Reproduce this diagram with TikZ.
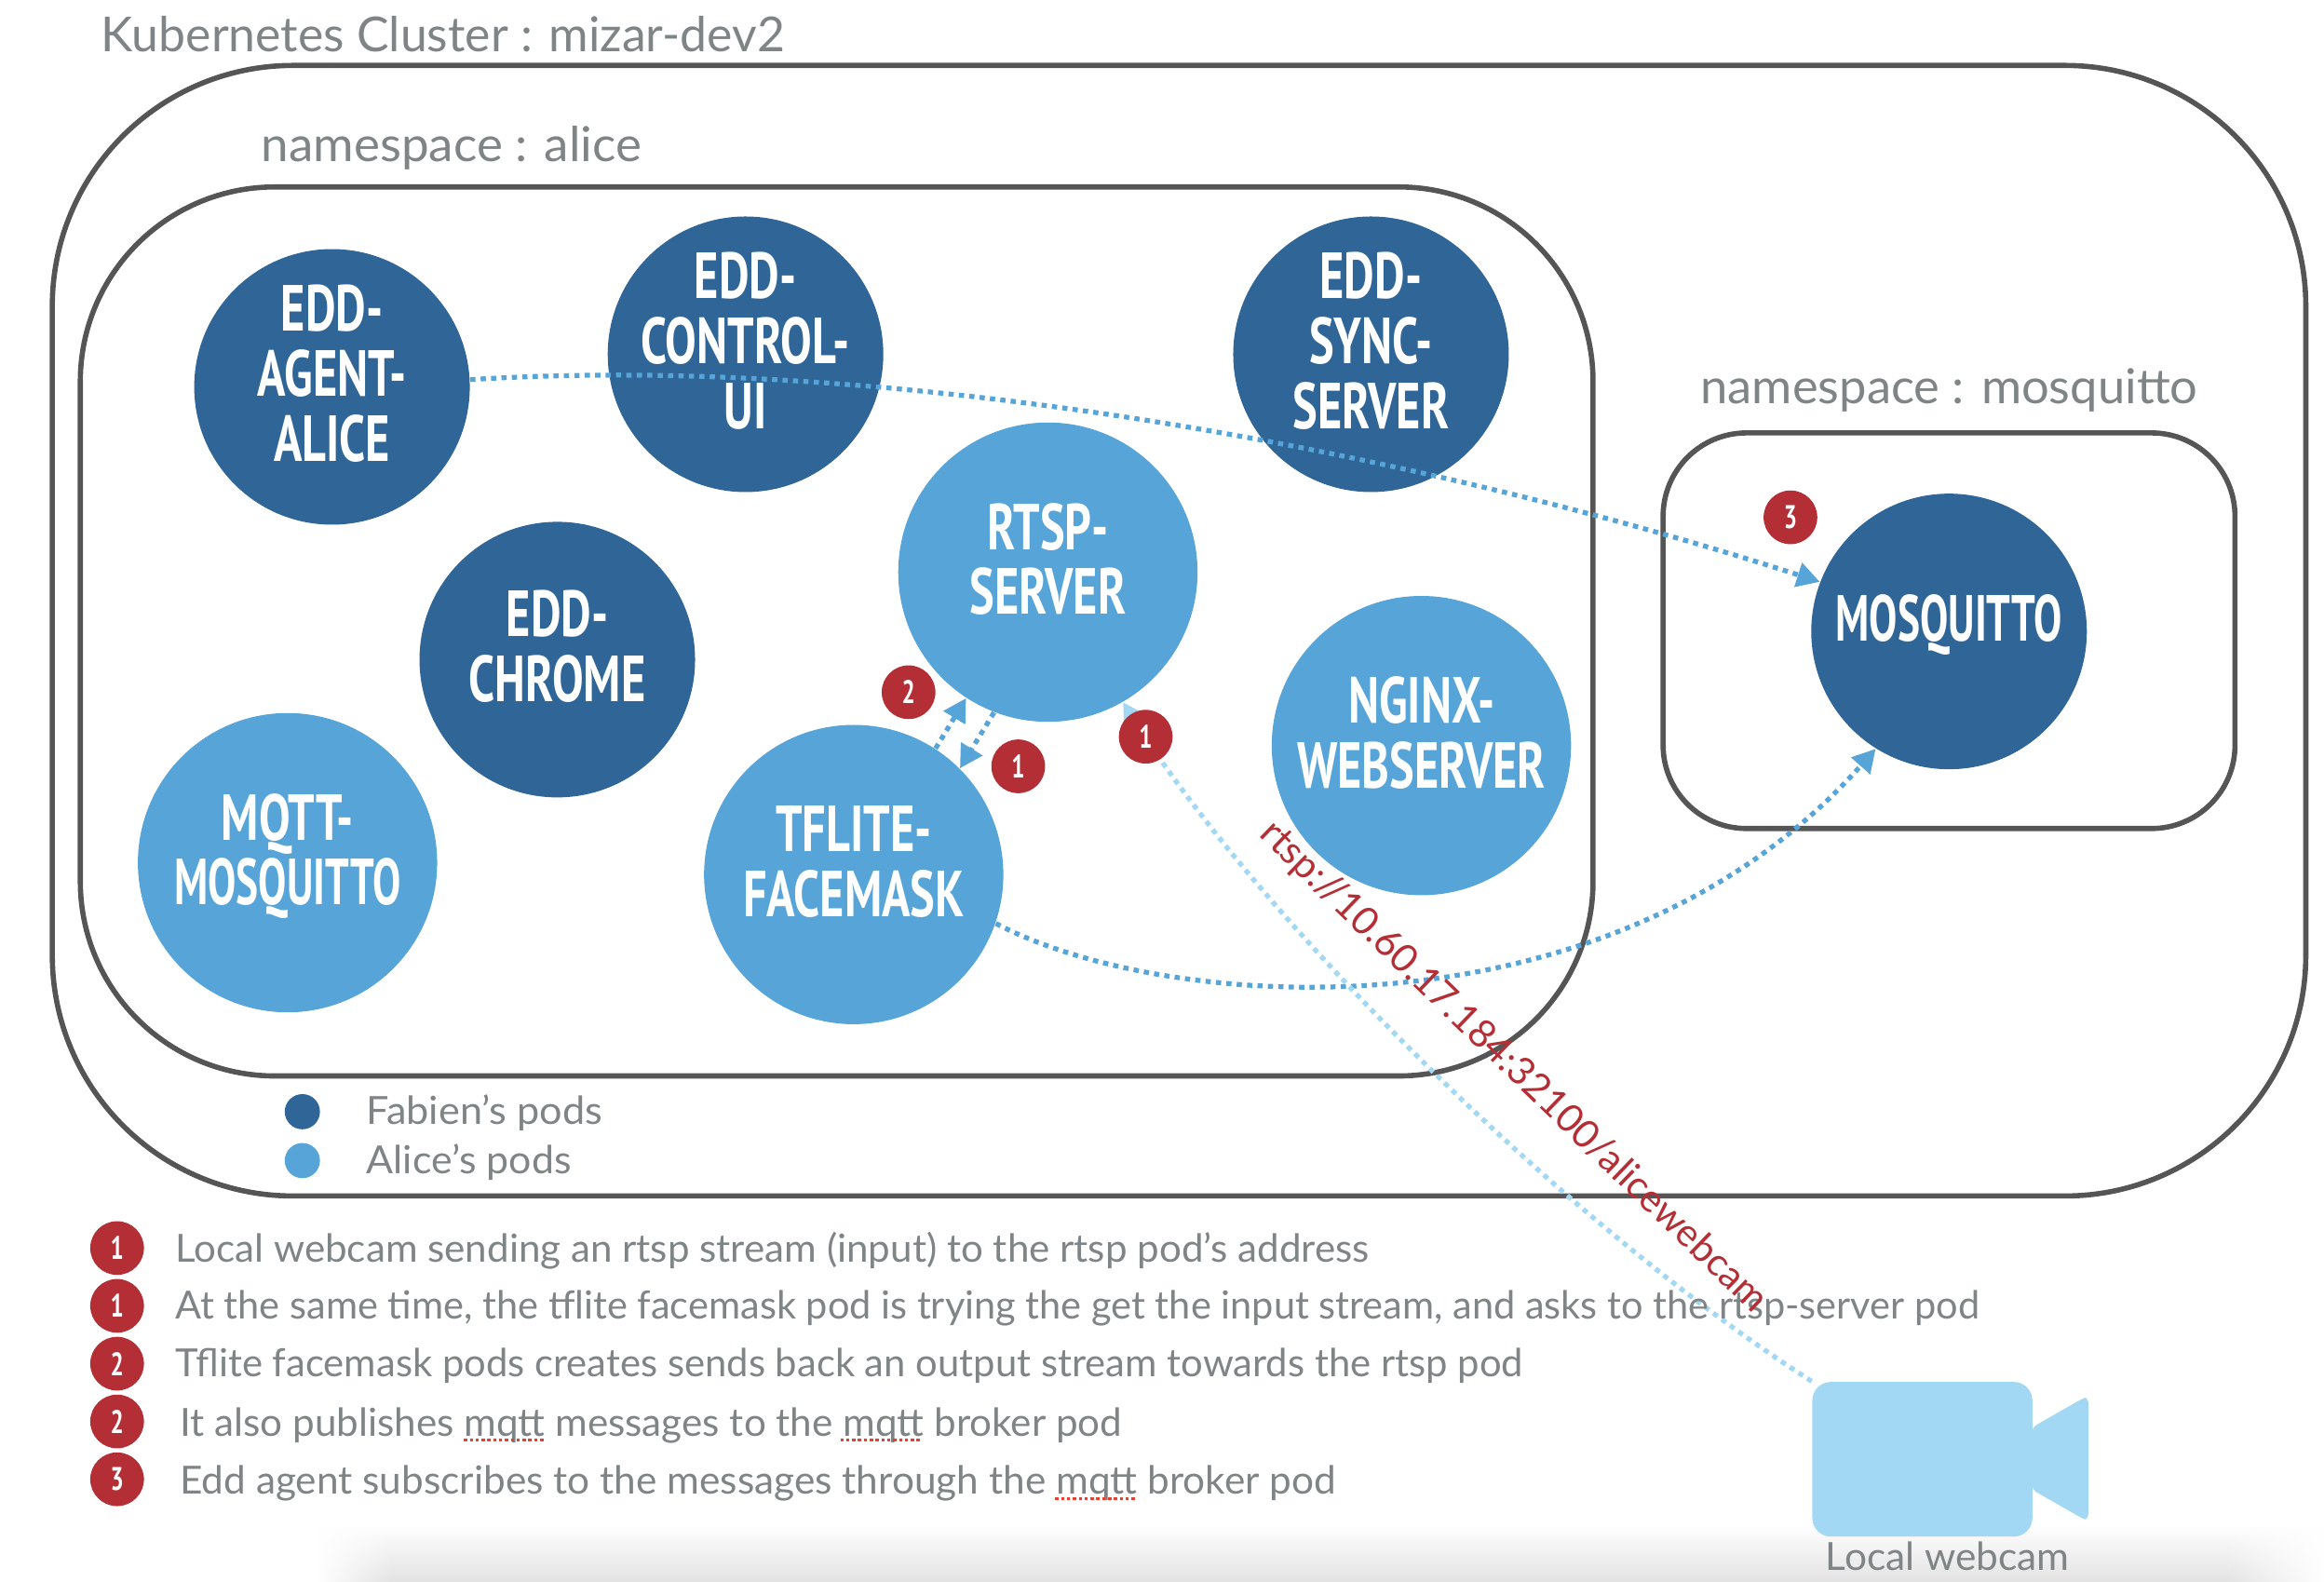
\documentclass[tikz,border=0pt]{standalone}
\usepackage{fontspec}
\usetikzlibrary{arrows.meta}
\usetikzlibrary{fadings}
\setmainfont{Lato}
\newfontfamily\podfont[FakeStretch=0.72]{PT Sans}
\definecolor{podnavy}{RGB}{47,102,151}
\definecolor{podsky}{RGB}{87,164,216}
\definecolor{camblue}{RGB}{163,216,244}
\definecolor{badgered}{RGB}{180,47,53}
\definecolor{txtgrey}{RGB}{127,132,135}
\definecolor{boxgrey}{RGB}{85,85,85}
\definecolor{spellred}{RGB}{232,64,47}
\tikzfading[name=fadeleft,left color=transparent!0,right color=transparent!100]
\tikzfading[name=faderight,left color=transparent!100,right color=transparent!0]
\tikzset{
  box/.style={draw=boxgrey,line width=1.6pt,inner sep=0pt},
  navypod/.style={circle,fill=podnavy,text=white,minimum size=2.976cm,inner sep=-0.4cm,align=center,text depth=0.29cm,font=\podfont\bfseries\fontsize{20}{20}\selectfont},
  skypod/.style={navypod,fill=podsky,minimum size=3.232cm},
  badge/.style={circle,fill=badgered,text=white,minimum size=0.58cm,inner sep=0pt,font=\podfont\bfseries\fontsize{10}{10}\selectfont},
  legbadge/.style={badge},
  legdot/.style={circle,minimum size=0.38cm,inner sep=0pt},
  legtxt/.style={anchor=west,text=txtgrey,inner sep=0pt,font=\fontsize{11.9}{12}\selectfont},
  titletxt/.style={text=txtgrey,anchor=west,inner sep=0pt,font=\fontsize{14.8}{15}\selectfont},
  flow/.style={-{Triangle[length=7pt,width=7.5pt]},color=podsky,line width=1.5pt,dash pattern=on 1.6pt off 1.6pt},
  camflow/.style={flow,color=camblue},
  spell/.style={color=spellred,line width=1pt,dash pattern=on 1pt off 0.8pt}
}
\begin{document}
\begin{tikzpicture}[x=0.016cm,y=-0.016cm]
\useasboundingbox (0,0) rectangle (1568,1066.7);
% shadow at the bottom of the page
\shade[top color=white,bottom color=black!11] (215,1028) rectangle (1568,1066.7);
\fill[white,path fading=fadeleft] (214,1027) rectangle (265,1067);
\fill[white,path fading=faderight] (1500,1027) rectangle (1568,1067);
% boxes
\node[box,minimum width=24.336cm,minimum height=12.208cm,rounded corners=2.6cm] (cluster) at (795.5,425.5) {};
\node[box,minimum width=16.336cm,minimum height=9.6cm,rounded corners=2.1cm] (nsalice) at (564.5,426) {};
\node[box,minimum width=6.176cm,minimum height=4.272cm,rounded corners=0.9cm] (nsmosq) at (1315,425.5) {};
\node[titletxt] (clustertitle) at (68,23) {Kubernetes Cluster : mizar-dev2};
\node[titletxt] (alicetitle) at (176,100) {\scalebox{1.024}[1]{namespace : alice}};
\node[titletxt] (mosqtitle) at (1147,263) {\scalebox{1.015}[1]{namespace : mosquitto}};
% pods
\node[navypod] (agent) at (224,261) {EDD-\\AGENT-\\ALICE};
\node[navypod] (control) at (503,239) {EDD-\\CONTROL-\\UI};
\node[navypod] (sync) at (925,239) {EDD-\\SYNC-\\SERVER};
\node[navypod] (chrome) at (376,445) {EDD-\\CHROME};
\node[navypod] (mosquitto) at (1315,426) {\scalebox{0.9}[1]{MOSQUITTO}};
\node[skypod] (rtsp) at (707,386) {RTSP-\\SERVER};
\node[skypod] (tflite) at (576,590) {TFLITE-\\FACEMASK};
\node[skypod] (nginx) at (959,503) {NGINX-\\WEBSERVER};
\node[skypod] (mqtt) at (194,582) {MQTT-\\\scalebox{0.9}[1]{MOSQUITTO}};
% webcam
\node[fill=camblue,minimum width=2.376cm,minimum height=1.67cm,rounded corners=0.2cm,inner sep=0pt] (webcam) at (1297,984.5) {};
\fill[camblue,rounded corners=0.05cm] (1371,963) -- (1406,943) -- (1409,943) -- (1409,1025) -- (1406,1025) -- (1371,1005) -- cycle;
\node[legtxt,anchor=center] (webcamtxt) at (1314,1050) {\scalebox{1.02}[1]{Local webcam}};
% flows
\draw[flow] (agent.3) .. controls (600,238) and (950,303) .. (mosquitto.159);
\draw[flow] (tflite.-19) .. controls (790,685) and (1090,703) .. (mosquitto.-122);
\draw[flow] (tflite.57) -- (rtsp.237);
\draw[flow] (rtsp.249) -- (tflite.45);
\draw[camflow] (webcam.north west) .. controls (1055,825) and (850,620) .. (rtsp.-60);
% badges
\node[badge] (b2) at (613,467) {2};
\node[badge] (b1a) at (687,517) {1};
\node[badge] (b1b) at (773,497) {1};
\node[badge] (b3) at (1208,349) {3};
% legend
\node[legdot,fill=podnavy] (dotfabien) at (204,750) {};
\node[legdot,fill=podsky] (dotalice) at (204,783) {};
\node[legtxt] (txtfabien) at (247,751) {\scalebox{1.039}[1]{Fabien’s pods}};
\node[legtxt] (txtalice) at (247,784) {\scalebox{1.03}[1]{Alice’s pods}};
\node[legbadge] (l1) at (79,842) {1};
\node[legbadge] (l2) at (79,881) {1};
\node[legbadge] (l3) at (79,920) {2};
\node[legbadge] (l4) at (79,959) {2};
\node[legbadge] (l5) at (79,998) {3};
\node[legtxt] (t1) at (118,843.5) {\scalebox{1.0126}[1]{Local webcam sending an rtsp stream (input) to the rtsp pod’s address}};
\node[legtxt] (t2) at (118,882.5) {\scalebox{0.998}[1]{At the same time, the tflite facemask pod is trying the get the input stream, and asks to the rtsp-server pod}};
\node[legtxt] (t3) at (118,921.5) {\scalebox{1.005}[1]{Tflite facemask pods creates sends back an output stream towards the rtsp pod}};
\node[legtxt] (t4) at (121,961.5) {\scalebox{1.0144}[1]{It also publishes mqtt messages to the mqtt broker pod}};
\node[legtxt] (t5) at (121,1000.5) {\scalebox{1.018}[1]{Edd agent subscribes to the messages through the mqtt broker pod}};
\draw[spell] (313,971.5) -- (367,971.5);
\draw[spell] (567,971.5) -- (621,971.5);
\draw[spell] (712,1011) -- (766,1011);
% url
\node[text=badgered,rotate=-44,inner sep=0pt,font=\fontsize{11.9}{12}\selectfont] (url) at (1021,720) {rtsp://10.60.17.184:32100/alicewebcam};
\end{tikzpicture}
\end{document}
